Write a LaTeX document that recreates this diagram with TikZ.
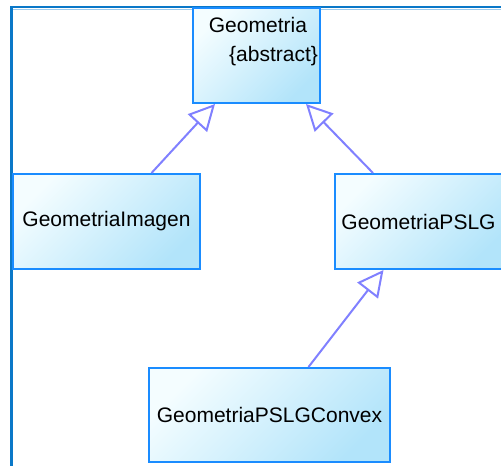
\documentclass[tikz,border=0pt]{standalone}
\usepackage{fontspec}
\setmainfont{Liberation Sans}
\usetikzlibrary{arrows.meta}
\definecolor{framec}{HTML}{0A78C8}
\definecolor{framelight}{HTML}{9CCBEE}
\definecolor{boxborder}{HTML}{1A8CFF}
\definecolor{boxtop}{HTML}{F4FDFF}
\definecolor{boxfill}{HTML}{B2E4FA}
\definecolor{arrowc}{HTML}{8080FF}
\tikzset{
  classbox/.style={draw=boxborder, line width=2pt, inner sep=0pt,
    top color=boxtop, bottom color=boxfill, shading angle=45,
    font=\fontsize{21}{24}\selectfont},
  txt/.style={inner sep=0pt, font=\fontsize{21}{24}\selectfont},
  inherit/.style={draw=arrowc, line width=2pt,
    -{Triangle[open, length=26pt, width=26pt, fill=white]}},
}
\begin{document}
\begin{tikzpicture}[x=1pt,y=-1pt]
\useasboundingbox (0,0) rectangle (501,466);
% frame
\draw[framelight, line width=1pt] (13,9) -- (510,9);
\draw[framec, line width=2pt] (10,7) -- (510,7);
\draw[framec, line width=3pt] (11.5,6) -- (11.5,470);
% classes
\node[classbox, minimum width=127pt, minimum height=95pt] (geo) at (256.5,55.5) {};
\node[txt, anchor=base west] (geoname) at (208.7,32) {Geometria};
\node[txt, anchor=base west] (geoabs) at (229,61) {\{abstract\}};
\node[classbox, minimum width=187pt, minimum height=95pt] (img) at (106.5,221.5) {GeometriaImagen};
\node[classbox, minimum width=172pt, minimum height=95pt] (pslg) at (421,221.5) {\hspace*{-5pt}GeometriaPSLG};
\node[classbox, minimum width=241pt, minimum height=94pt] (conv) at (269.5,415) {GeometriaPSLGConvex};
% inheritance
\draw[inherit] ([xshift=45pt]img.north) -- ([xshift=-41.5pt]geo.south);
\draw[inherit] ([xshift=-48pt]pslg.north) -- ([xshift=49.5pt]geo.south);
\draw[inherit] ([xshift=39pt]conv.north) -- ([xshift=-37.5pt]pslg.south);
\end{tikzpicture}
\end{document}
